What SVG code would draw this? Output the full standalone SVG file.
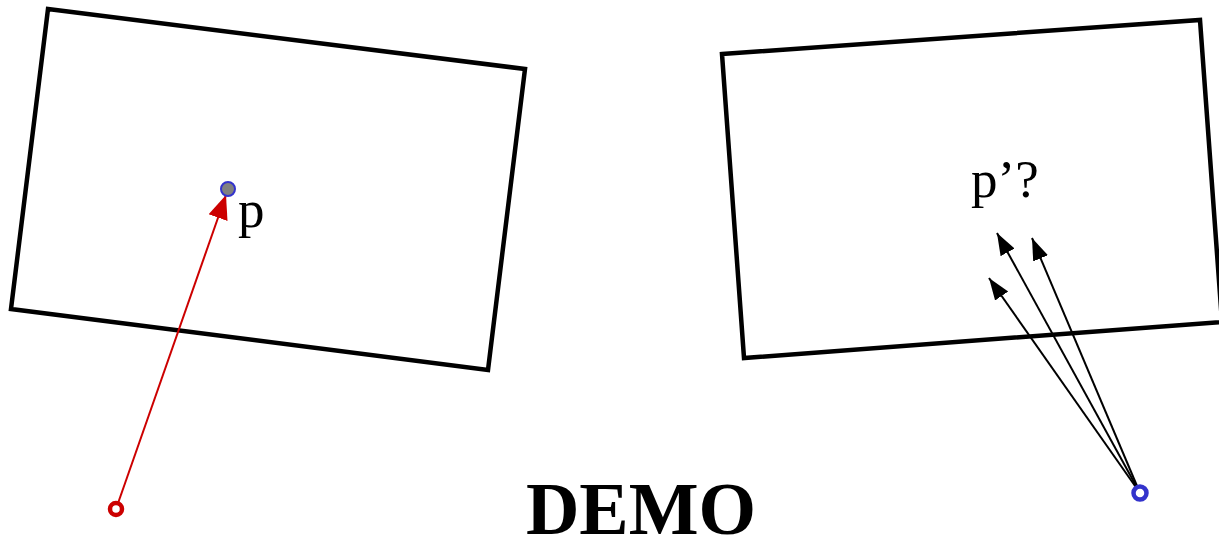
<svg xmlns="http://www.w3.org/2000/svg" width="1219" height="535" viewBox="0 0 1219 535">
<style>
.frame{fill:none;stroke:#000;stroke-width:4.5;stroke-linejoin:miter}
.lbl{font-family:'Liberation Serif','Times New Roman',serif;font-size:53px;fill:#000}
.demo{font-family:'Liberation Serif','Times New Roman',serif;font-size:74px;font-weight:bold;fill:#000}
.ray{stroke:#000;stroke-width:2;fill:none}
</style>
<defs>
<marker id="ah-red" markerUnits="userSpaceOnUse" markerWidth="26" markerHeight="26" viewBox="0 0 26 26" refX="24" refY="13" orient="auto">
<path d="M0,3 L24,13 L0,23 Z" fill="#cc0000"/>
</marker>
<marker id="ah-black" markerUnits="userSpaceOnUse" markerWidth="26" markerHeight="26" viewBox="0 0 26 26" refX="22" refY="13" orient="auto">
<path d="M0,5 L22,13 L0,21 Z" fill="#000"/>
</marker>
</defs>
<rect width="1219" height="535" fill="#fff"/>
<g id="frame-left"><polygon class="frame" points="48,9 525,69 488,370 11,309"/></g>
<g id="frame-right"><polygon class="frame" points="722,54 1200,20 1222,322 744,358"/></g>
<g id="connectors">
<line x1="116" y1="509" x2="226" y2="195" stroke="#cc0000" stroke-width="2" marker-end="url(#ah-red)"/>
<line class="ray" x1="1140" y1="493" x2="997" y2="233" marker-end="url(#ah-black)"/>
<line class="ray" x1="1140" y1="493" x2="1032" y2="238" marker-end="url(#ah-black)"/>
<line class="ray" x1="1140" y1="493" x2="989" y2="278" marker-end="url(#ah-black)"/>
</g>
<g id="point-p"><circle cx="228" cy="189" r="7" fill="#808080" stroke="#3333cc" stroke-width="2"/><text class="lbl" x="238" y="227">p</text></g>
<g id="source-red"><circle cx="116" cy="509" r="6" fill="#fff" stroke="#cc0000" stroke-width="4.5"/></g>
<g id="source-blue"><circle cx="1140" cy="493" r="6.5" fill="#fff" stroke="#3333cc" stroke-width="4.5"/></g>
<g id="label-pq"><text class="lbl" x="971" y="197">p’?</text></g>
<g id="demo"><text class="demo" x="641" y="534" text-anchor="middle">DEMO</text></g>
</svg>
